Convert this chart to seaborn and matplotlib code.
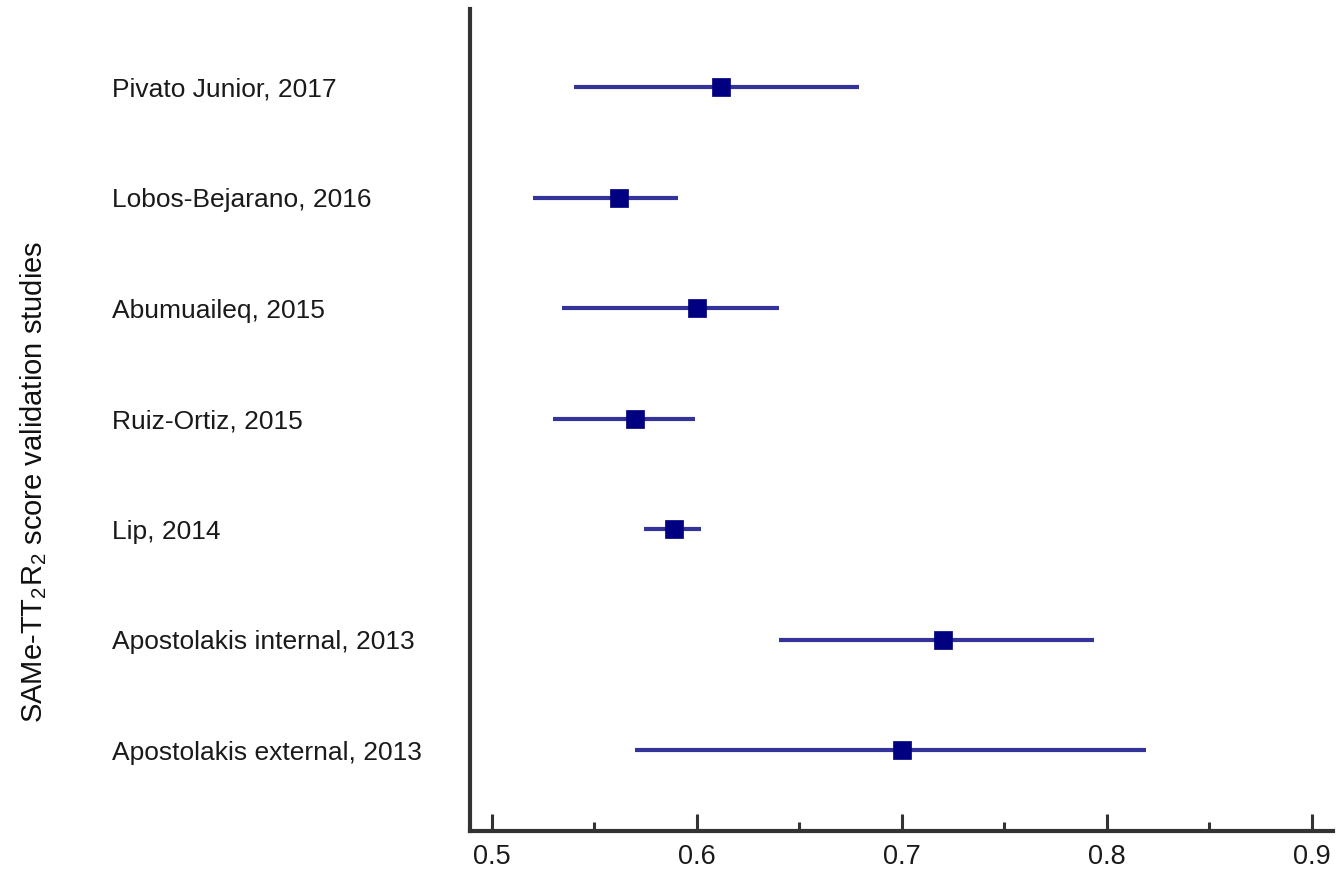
import matplotlib
matplotlib.use("Agg")
import matplotlib.pyplot as plt
import seaborn as sns
import numpy as np
import pandas as pd
from matplotlib.ticker import MultipleLocator

studies = ["Pivato Junior, 2017", "Lobos-Bejarano, 2016", "Abumuaileq, 2015",
           "Ruiz-Ortiz, 2015", "Lip, 2014", "Apostolakis internal, 2013",
           "Apostolakis external, 2013"]
estimate = [0.612, 0.562, 0.600, 0.570, 0.589, 0.720, 0.700]
ci_low = [0.540, 0.520, 0.534, 0.530, 0.574, 0.640, 0.570]
ci_high = [0.679, 0.591, 0.640, 0.599, 0.602, 0.794, 0.819]
x_ticks = [0.5, 0.6, 0.7, 0.8, 0.9]

sns.set_theme(style="white")
plt.rcParams['font.family'] = ['Liberation Sans', 'DejaVu Sans']
plt.rcParams['mathtext.fontset'] = 'custom'
plt.rcParams['mathtext.rm'] = 'Liberation Sans'
plt.rcParams['mathtext.it'] = 'Liberation Sans:italic'

df = pd.DataFrame({"study": studies, "est": estimate, "lo": ci_low, "hi": ci_high})
df["pos"] = np.arange(len(df))

fig = plt.figure(figsize=(13.38, 8.74), dpi=100)
ax = fig.add_axes([470/1338, 1-831/874, (1333-470)/1338, (831-9)/874])

ax.hlines(df["pos"], df["lo"], df["hi"], color="#333399", linewidth=3.0, zorder=2)
sns.scatterplot(data=df, x="est", y="pos", marker="s", s=155, color="#000080",
                edgecolor="#000080", linewidth=0.5, ax=ax, zorder=3, legend=False)

ax.set_xlim(0.4893, 0.9104)
ax.set_ylim(6.733, -0.706)
ax.set_xticks(x_ticks)
ax.set_xticklabels([f"{t:.1f}" for t in x_ticks])
ax.xaxis.set_minor_locator(MultipleLocator(0.05))
ax.tick_params(axis="x", which="major", direction="in", length=12, width=2.2,
               color="#333333", labelsize=19.5, pad=9, labelcolor="#1a1a1a", bottom=True)
ax.tick_params(axis="x", which="minor", direction="in", length=6.5, width=2.2,
               color="#333333", bottom=True)

ax.set_yticks(df["pos"])
ax.set_yticklabels(studies)
ax.tick_params(axis="y", length=0, labelsize=19, pad=(470-112)*0.72, labelcolor="#1a1a1a")
for lab in ax.get_yticklabels():
    lab.set_horizontalalignment("left")

for s in ["top", "right"]:
    ax.spines[s].set_visible(False)
for s in ["left", "bottom"]:
    ax.spines[s].set_color("#333333")
    ax.spines[s].set_linewidth(3)

ax.set_xlabel("")
ax.set_ylabel("")
fig.text(34/1338, 1-482/874, "SAMe-TT$_2$R$_2$ score validation studies",
         rotation=90, ha="center", va="center", fontsize=21, color="#111111")

fig.savefig("out.png", dpi=100)
